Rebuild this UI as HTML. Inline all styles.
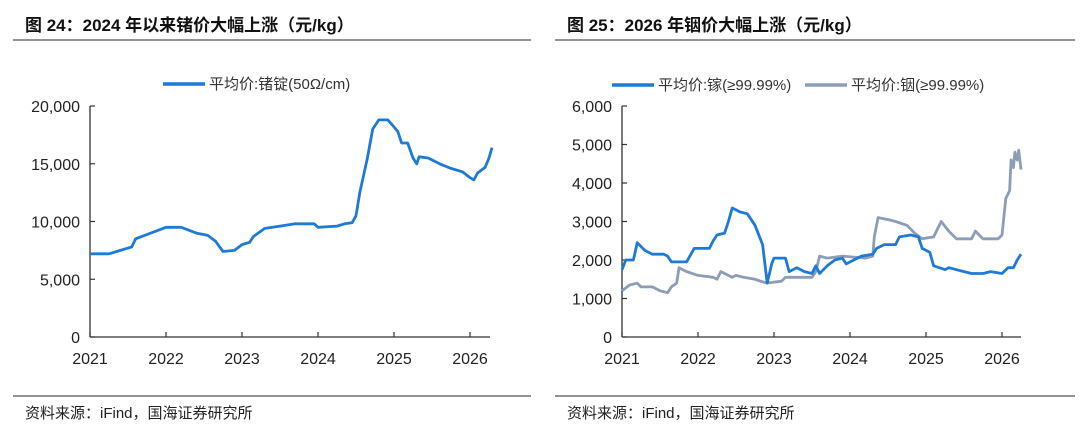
<!DOCTYPE html>
<html><head><meta charset="utf-8">
<style>
body{margin:0;background:#fff;width:1080px;height:439px;overflow:hidden;font-family:"Liberation Sans","Noto Sans CJK SC",sans-serif;}
svg{position:absolute;left:0;top:0;}
</style></head>
<body>
<svg id="c" width="1080" height="439">
<text x="25" y="31" font-size="17" font-weight="bold" fill="#111" font-family="Liberation Sans, Noto Sans CJK SC, sans-serif">图 24：2024 年以来锗价大幅上涨（元/kg）</text>
<text x="567" y="31" font-size="17" font-weight="bold" fill="#111" font-family="Liberation Sans, Noto Sans CJK SC, sans-serif">图 25：2026 年铟价大幅上涨（元/kg）</text>
<line x1="13" y1="40" x2="531" y2="40" stroke="#555" stroke-width="1.2"/>
<line x1="555" y1="40" x2="1075" y2="40" stroke="#555" stroke-width="1.2"/>
<line x1="13" y1="396" x2="531" y2="396" stroke="#555" stroke-width="1.2"/>
<line x1="555" y1="396" x2="1075" y2="396" stroke="#555" stroke-width="1.2"/>
<text x="25" y="418" font-size="15" fill="#222" font-family="Liberation Sans, Noto Sans CJK SC, sans-serif">资料来源：iFind，国海证券研究所</text>
<text x="567" y="418" font-size="15" fill="#222" font-family="Liberation Sans, Noto Sans CJK SC, sans-serif">资料来源：iFind，国海证券研究所</text>
<g id="left"></g>
<g id="right"></g>
</svg>
<script>
const years=[2021,2022,2023,2024,2025,2026];
const leftTicks=[0,5000,10000,15000,20000];
const rightTicks=[0,1000,2000,3000,4000,5000,6000];
const geX=[2021.0,2021.25,2021.4,2021.55,2021.6,2021.8,2022.0,2022.2,2022.4,2022.55,2022.65,2022.75,2022.9,2023.0,2023.1,2023.15,2023.3,2023.5,2023.7,2023.95,2024.0,2024.25,2024.35,2024.45,2024.5,2024.55,2024.65,2024.72,2024.8,2024.92,2025.05,2025.1,2025.18,2025.25,2025.3,2025.33,2025.45,2025.6,2025.75,2025.9,2026.0,2026.05,2026.1,2026.2,2026.25,2026.29];
const geY=[7200,7200,7500,7800,8500,9000,9500,9500,9000,8800,8300,7400,7500,8000,8200,8700,9400,9600,9800,9800,9500,9600,9800,9900,10500,12500,15500,18000,18800,18800,17800,16800,16800,15500,15000,15600,15500,15000,14600,14300,13800,13600,14200,14700,15500,16400];
const gaX=[2021.0,2021.05,2021.15,2021.2,2021.3,2021.4,2021.55,2021.6,2021.65,2021.85,2021.95,2022.15,2022.2,2022.25,2022.35,2022.4,2022.45,2022.5,2022.55,2022.65,2022.75,2022.85,2022.91,2022.97,2023.0,2023.15,2023.2,2023.3,2023.4,2023.5,2023.55,2023.6,2023.7,2023.8,2023.9,2023.95,2024.05,2024.15,2024.3,2024.35,2024.45,2024.6,2024.65,2024.8,2024.9,2024.95,2025.05,2025.1,2025.25,2025.3,2025.5,2025.6,2025.75,2025.85,2026.0,2026.08,2026.15,2026.2,2026.25];
const gaY=[1750,2000,2000,2450,2250,2150,2150,2100,1950,1950,2300,2300,2500,2650,2700,3000,3350,3300,3250,3200,2900,2400,1400,1900,2050,2050,1700,1800,1700,1650,1850,1650,1850,2000,2050,1900,2000,2100,2150,2300,2400,2400,2600,2650,2600,2300,2200,1850,1750,1800,1700,1650,1650,1700,1650,1800,1800,2000,2150];
const inX=[2021.0,2021.1,2021.2,2021.25,2021.4,2021.5,2021.6,2021.65,2021.72,2021.75,2021.85,2022.0,2022.2,2022.25,2022.3,2022.45,2022.5,2022.6,2022.75,2022.9,2023.1,2023.15,2023.5,2023.55,2023.6,2023.7,2023.9,2024.2,2024.3,2024.32,2024.37,2024.5,2024.6,2024.75,2024.85,2024.95,2025.1,2025.2,2025.3,2025.4,2025.6,2025.65,2025.75,2025.95,2026.0,2026.05,2026.1,2026.12,2026.15,2026.17,2026.2,2026.22,2026.25];
const inY=[1200,1350,1400,1300,1300,1200,1150,1300,1400,1800,1700,1600,1550,1500,1700,1550,1600,1550,1500,1400,1450,1550,1550,1700,2100,2050,2100,2050,2100,2600,3100,3050,3000,2900,2700,2550,2600,3000,2750,2550,2550,2750,2550,2550,2650,3600,3800,4600,4400,4800,4600,4850,4350];

const NS='http://www.w3.org/2000/svg';
function mk(p,t,a){const e=document.createElementNS(NS,t);for(const k in a)e.setAttribute(k,a[k]);p.appendChild(e);return e;}
function axes(g,x0,xEnd,yTop,yBot,ymax,ticks,prefix){
  const sx=y=>x0+(y-2021)*76, sy=v=>yBot-(v/ymax)*(yBot-yTop);
  let l=mk(g,'line',{x1:x0,y1:yTop,x2:x0,y2:yBot,stroke:'#333','stroke-width':1.3});
  
  
  l=mk(g,'line',{x1:x0,y1:yBot,x2:xEnd,y2:yBot,stroke:'#333','stroke-width':1.3});
  
  
  ticks.forEach(v=>{
    const y=sy(v);
    const t=mk(g,'line',{x1:x0,y1:y,x2:x0+5,y2:y,stroke:'#333','stroke-width':1.2});
    
    
    const tx=mk(g,'text',{x:x0-10,y:y+6,'text-anchor':'end','font-size':16,fill:'#222'});
    tx.textContent=v.toLocaleString('en-US');
    
    
  });
  years.forEach(yr=>{
    const x=sx(yr);
    const t=mk(g,'line',{x1:x,y1:yBot,x2:x,y2:yBot-5,stroke:'#333','stroke-width':1.2});
    
    
    const tx=mk(g,'text',{x:x,y:yBot+27,'text-anchor':'middle','font-size':16,fill:'#222'});
    tx.textContent=yr;
    
    
  });
  return {sx,sy};
}
function line(g,s,xs,ys,color,name){
  const d=xs.map((x,i)=>(i?'L':'M')+s.sx(x).toFixed(1)+','+s.sy(ys[i]).toFixed(1)).join('');
  const p=mk(g,'path',{d:d,fill:'none',stroke:color,'stroke-width':2.8,'stroke-linejoin':'round'});
  
  
}
function legend(g,x,y,color,label,name){
  const l=mk(g,'line',{x1:x,y1:y,x2:x+42,y2:y,stroke:color,'stroke-width':3.5});
  
  
  const t=mk(g,'text',{x:x+46,y:y+5,'font-size':15,fill:'#333'});
  t.textContent=label;
  
  
}
const L=document.getElementById('left'), R=document.getElementById('right');
const sl=axes(L,90,490,106,337,20000,leftTicks,'left');
line(L,sl,geX,geY,'#1f7ad6','germanium-price-line');
legend(L,163,84,'#1f7ad6','平均价:锗锭(50Ω/cm)','legend-germanium');
const sr=axes(R,622,1021,106,337,6000,rightTicks,'right');
line(R,sr,inX,inY,'#8c9db5','indium-price-line');
line(R,sr,gaX,gaY,'#1f7ad6','gallium-price-line');
legend(R,612,85,'#1f7ad6','平均价:镓(≥99.99%)','legend-gallium');
legend(R,805,85,'#8c9db5','平均价:铟(≥99.99%)','legend-indium');
</script>
</body></html>
